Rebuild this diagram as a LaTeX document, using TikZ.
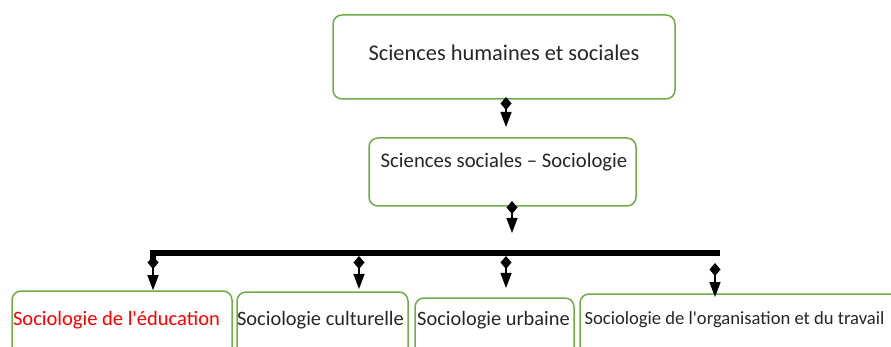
\documentclass[tikz,border=0pt]{standalone}
\usepackage{fontspec}
\setmainfont{Carlito}[Ligatures=TeXOff]
\usetikzlibrary{arrows.meta}
\definecolor{boxgreen}{RGB}{112,173,71}
\definecolor{txtred}{RGB}{255,0,0}
\tikzset{
  box/.style={draw=boxgreen, line width=1.5pt, rounded corners=9pt, inner sep=0pt, fill=white},
  lbl/.style={inner sep=0pt, text=black!85},
  conn/.style={line width=1.4pt, {Diamond[width=11pt,length=13pt]}-{Triangle[width=11pt,length=15pt]}},
  bar/.style={line width=6pt},
}
\begin{document}
\begin{tikzpicture}[x=1pt,y=-1pt]
\useasboundingbox (0,0) rectangle (891,347);
\clip (0,0) rectangle (891,347);
% boxes
\node[box, minimum width=342pt, minimum height=84pt] (top) at (504,57) {};
\node[lbl, font=\fontsize{22.4}{26}\selectfont] (ttop) at (504,53) {Sciences humaines et sociales};
\node[box, minimum width=267pt, minimum height=68pt] (soc) at (502.5,172) {};
\node[lbl, font=\fontsize{20.7}{24}\selectfont] (tsoc) at (504,162) {Sciences sociales – Sociologie};
\node[box, minimum width=220pt, minimum height=80pt] (b1) at (122,331) {};
\node[box, minimum width=171pt, minimum height=80pt] (b2) at (322.5,332) {};
\node[box, minimum width=159pt, minimum height=80pt] (b3) at (494.5,338) {};
\node[box, minimum width=320pt, minimum height=80pt] (b4) at (740,334) {};
\node[lbl, text=txtred, font=\fontsize{20.5}{24}\selectfont] (t1) at (116.5,320) {Sociologie de l'éducation};
\node[lbl, font=\fontsize{20.4}{24}\selectfont] (t2) at (320.5,320) {Sociologie culturelle};
\node[lbl, font=\fontsize{20.4}{24}\selectfont] (t3) at (493.5,320) {Sociologie urbaine};
\node[lbl, font=\fontsize{18.6}{22}\selectfont] (t4) at (734.5,320) {Sociologie de l'organisation et du travail};
% bar
\coordinate (barL) at (152.5,253.5);
\coordinate (barR) at (720,253.5);
\draw[bar] (152.5,261) -- (barL) -- (barR);
% connector ends
\coordinate (s1) at (506,97);
\coordinate (e1) at (506,127);
\coordinate (s2) at (512,201);
\coordinate (e2) at (512,233);
\coordinate (s3) at (153,256);
\coordinate (s4) at (359,256);
\coordinate (s5) at (506,256);
\coordinate (s6) at (715,263);
\coordinate (e4) at (359,289);
\coordinate (e5) at (506,288);
\coordinate (e6) at (715,297);
% connectors
\draw[conn] (s1) -- (e1);
\draw[conn] (s2) -- (e2);
\draw[conn] (s3) -- (s3 |- b1.north);
\draw[conn] (s4) -- (e4);
\draw[conn] (s5) -- (e5);
\draw[conn] (s6) -- (e6);
\end{tikzpicture}
\end{document}
